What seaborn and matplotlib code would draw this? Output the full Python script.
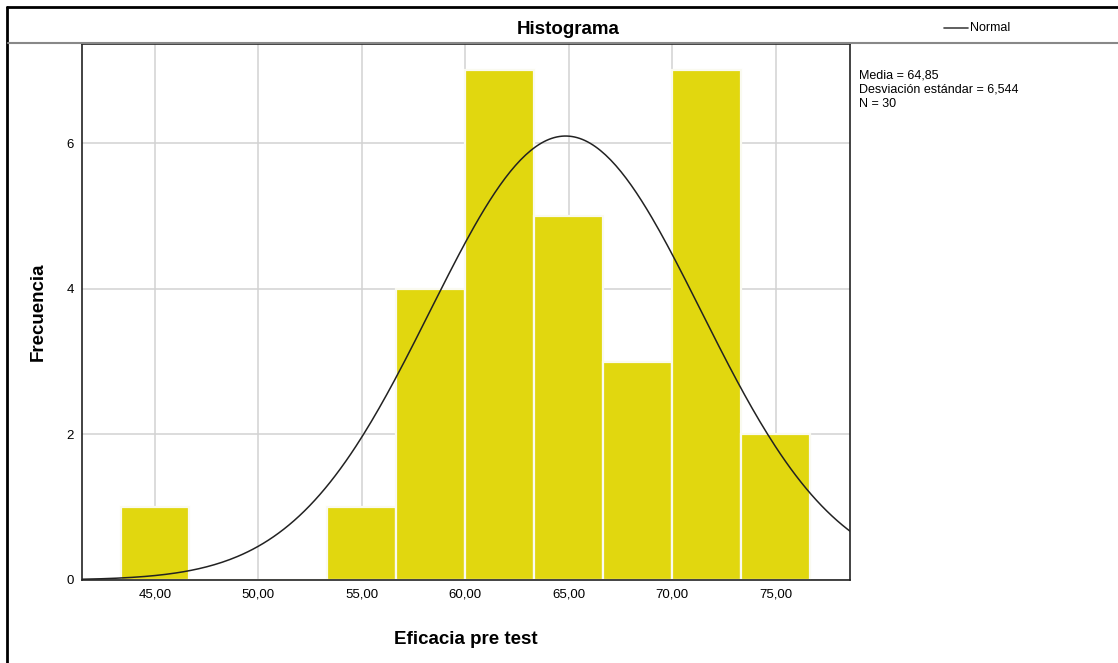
import matplotlib
matplotlib.use("Agg")
import matplotlib.pyplot as plt
import numpy as np
import pandas as pd
import seaborn as sns
from matplotlib.lines import Line2D

# bin centres and frequencies
bin_centers = [45.0, 48.333, 51.667, 55.0, 58.333, 61.667, 65.0, 68.333, 71.667, 75.0]
frequencies = [1, 0, 0, 1, 4, 7, 5, 3, 7, 2]
x_ticks = [45, 50, 55, 60, 65, 70, 75]
x_tick_labels = ["45,00", "50,00", "55,00", "60,00", "65,00", "70,00", "75,00"]
y_ticks = [0, 2, 4, 6]

media = 64.85
desv = 6.544
n = 30
bin_width = 10 / 3

sns.set_style("white")
plt.rcParams['font.family'] = ['Liberation Sans', 'DejaVu Sans']
plt.rcParams['text.color'] = 'black'
plt.rcParams['axes.labelcolor'] = 'black'

df = pd.DataFrame({"valor": bin_centers, "frecuencia": frequencies})

fig = plt.figure(figsize=(11.18, 6.63), dpi=100)
ax = fig.add_axes([82 / 1118, 83 / 663, 768 / 1118, 536 / 663])

edges_lo = bin_centers[0] - bin_width / 2
edges_hi = bin_centers[-1] + bin_width / 2
sns.histplot(data=df, x="valor", weights="frecuencia", bins=len(bin_centers),
             binrange=(edges_lo, edges_hi), color="#E1D70F", alpha=1,
             edgecolor="#FAFAF0", linewidth=1.6, ax=ax, zorder=2)

# normal curve with the reported mean / sd, scaled to counts
xs = np.linspace(41.4, 78.6, 300)
ys = n * bin_width / (desv * np.sqrt(2 * np.pi)) * np.exp(-0.5 * ((xs - media) / desv) ** 2)
sns.lineplot(x=xs, y=ys, color="#222222", linewidth=1.1, ax=ax, zorder=3)

ax.set_xlim(41.47, 78.6)
ax.set_ylim(0, 7.36)
ax.set_xticks(x_ticks)
ax.set_xticklabels(x_tick_labels)
ax.set_yticks(y_ticks)
ax.tick_params(axis="both", length=0, labelsize=9.5, colors="black", pad=6)
ax.grid(True, color="#D2D2D2", linewidth=1.1, zorder=0)
ax.set_axisbelow(True)
for s in ax.spines.values():
    s.set_color("#222222")
    s.set_linewidth(1.2)
ax.set_xlabel("Eficacia pre test", fontsize=13.5, fontweight="bold", labelpad=22)
ax.set_ylabel("Frecuencia", fontsize=13.5, fontweight="bold", labelpad=14)

# frame, title band and side annotations
fig.add_artist(Line2D([7 / 1118, 7 / 1118], [0, 1 - 7 / 663], color="black", linewidth=2))
fig.add_artist(Line2D([7 / 1118, 1], [1 - 7 / 663, 1 - 7 / 663], color="black", linewidth=2))
fig.add_artist(Line2D([8 / 1118, 1], [1 - 43 / 663, 1 - 43 / 663], color="#888888", linewidth=1.5))
fig.text(568 / 1118, 1 - 29 / 663, "Histograma", ha="center", va="center",
         fontsize=13.5, fontweight="bold")
fig.add_artist(Line2D([944 / 1118, 968 / 1118], [1 - 28 / 663, 1 - 28 / 663], color="#444444", linewidth=1.2))
fig.text(970 / 1118, 1 - 28 / 663, "Normal", ha="left", va="center", fontsize=9)
fig.text(859 / 1118, 1 - 70 / 663, "Media = 64,85\nDesviación estándar = 6,544\nN = 30",
         ha="left", va="top", fontsize=9, linespacing=1.2)

fig.savefig("out.png", dpi=100)
